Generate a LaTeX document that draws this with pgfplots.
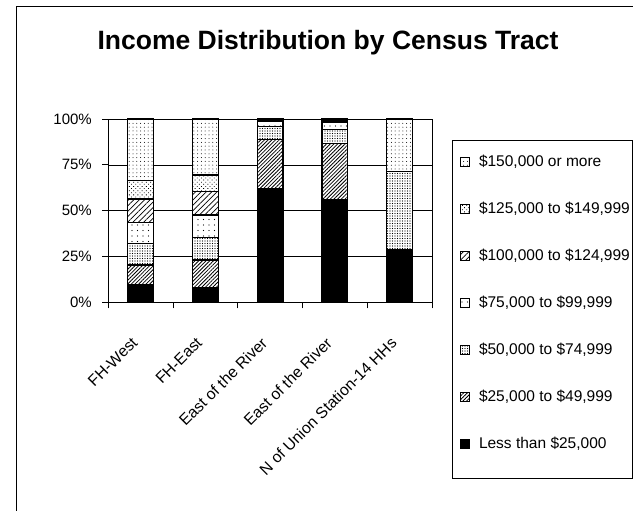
\documentclass[border=0pt]{standalone}
\usepackage{pgfplots}
\usepackage{pgfplotstable}
\pgfplotsset{compat=1.18}
\usetikzlibrary{patterns.meta}
\usepackage{fontspec}
\setmainfont{Liberation Sans}

% columns: a <25k, b 25-49k, c 50-74k, d 75-99k, e 100-124k, f 125-149k, g 150k+
\pgfplotstableread{
x a b c d e f g
0 9.4 10.9 11.9 11.4 12.8 10.0 33.6
1 8.0 15.1 12.4 12.1 12.7 9.1 30.6
2 62.2 26.7 6.9 2.7 0.5 0.5 0.5
3 56.2 30.5 7.7 4.0 0.6 0.4 0.6
4 28.6 0 42.9 0 0 0 28.5
}\incomedata

\tikzset{
  pA/.style={fill=black},
  pB/.style={fill=white, postaction={pattern={Lines[angle=45,distance=2.6bp,line width=0.8bp]}}},
  pC/.style={fill=white, postaction={pattern={Dots[distance=2.5bp,radius=0.6bp]}}},
  pD/.style={fill=white, postaction={pattern={Dots[distance=5.5bp,radius=0.6bp]}}},
  pE/.style={fill=white, postaction={pattern={Lines[angle=45,distance=3.8bp,line width=0.7bp]}}},
  pF/.style={fill=white, postaction={pattern={Dots[distance=3.0bp,radius=0.6bp,angle=45]}}},
  pG/.style={fill=white, postaction={pattern={Dots[distance=3.8bp,radius=0.5bp]}}},
}

\begin{document}
\begin{tikzpicture}
\useasboundingbox (0,0) rectangle (633bp,511bp);
\draw[line width=0.8bp] (16bp,0bp) -- (16bp,505bp) -- (633bp,505bp);
\node[font=\bfseries\fontsize{26.5bp}{30bp}\selectfont] at (328bp,468bp) {Income Distribution by Census Tract};
\begin{axis}[
  at={(108.3bp,208.7bp)}, anchor=south west,
  scale only axis, width=323.7bp, height=183.3bp,
  ybar stacked, bar width=25.6bp,
  xmin=-0.5, xmax=4.5, ymin=0, ymax=100,
  axis line style={black, line width=0.8bp},
  ytick={0,25,50,75,100},
  yticklabels={0\%,25\%,50\%,75\%,100\%},
  yticklabel style={xshift=-7bp, font=\fontsize{15bp}{18bp}\selectfont},
  xtick={-0.5,0.5,1.5,2.5,3.5,4.5},
  xticklabels={},
  extra x ticks={0,1,2,3,4},
  extra x tick labels={FH-West,FH-East,East of the River,East of the River,N of Union Station-14 HHs},
  extra x tick style={major tick length=0pt, xticklabel style={xshift=-10bp, yshift=-29bp, rotate=45, anchor=north east, font=\fontsize{15.8bp}{18bp}\selectfont}},
  tick align=outside, major tick length=6bp,
  xtick pos=left, ytick pos=left,
  tick style={black, line width=0.8bp},
  ymajorgrids, grid style={black, line width=0.6bp},
  every axis plot/.append style={draw=black, line width=1.2bp},
  reverse legend,
  legend cell align=left,
  legend style={at={(axis description cs:1.0865,0.8036)}, anchor=north west, draw=none, fill=none,
    inner sep=0pt, row sep=33bp,
    nodes={inner sep=0pt, text height=11bp, text depth=3bp, font=\fontsize{15.5bp}{18bp}\selectfont},
    /tikz/every odd column/.append style={column sep=9bp}},
  legend image code/.code={\draw[#1, line width=0.8bp] (0bp,-4.5bp) rectangle (9bp,4.5bp);},
]
\addplot[pA] table[x=x,y=a]{\incomedata};
\addplot[pB] table[x=x,y=b]{\incomedata};
\addplot[pC] table[x=x,y=c]{\incomedata};
\addplot[pD] table[x=x,y=d]{\incomedata};
\addplot[pE] table[x=x,y=e]{\incomedata};
\addplot[pF] table[x=x,y=f]{\incomedata};
\addplot[pG] table[x=x,y=g]{\incomedata};
\legend{{Less than \$25,000}, {\$25,000 to \$49,999}, {\$50,000 to \$74,999}, {\$75,000 to \$99,999}, {\$100,000 to \$124,999}, {\$125,000 to \$149,999}, {\$150,000 or more}}
\end{axis}
\draw[line width=0.8bp] (452bp,33bp) rectangle (632bp,371bp);
\end{tikzpicture}
\end{document}
